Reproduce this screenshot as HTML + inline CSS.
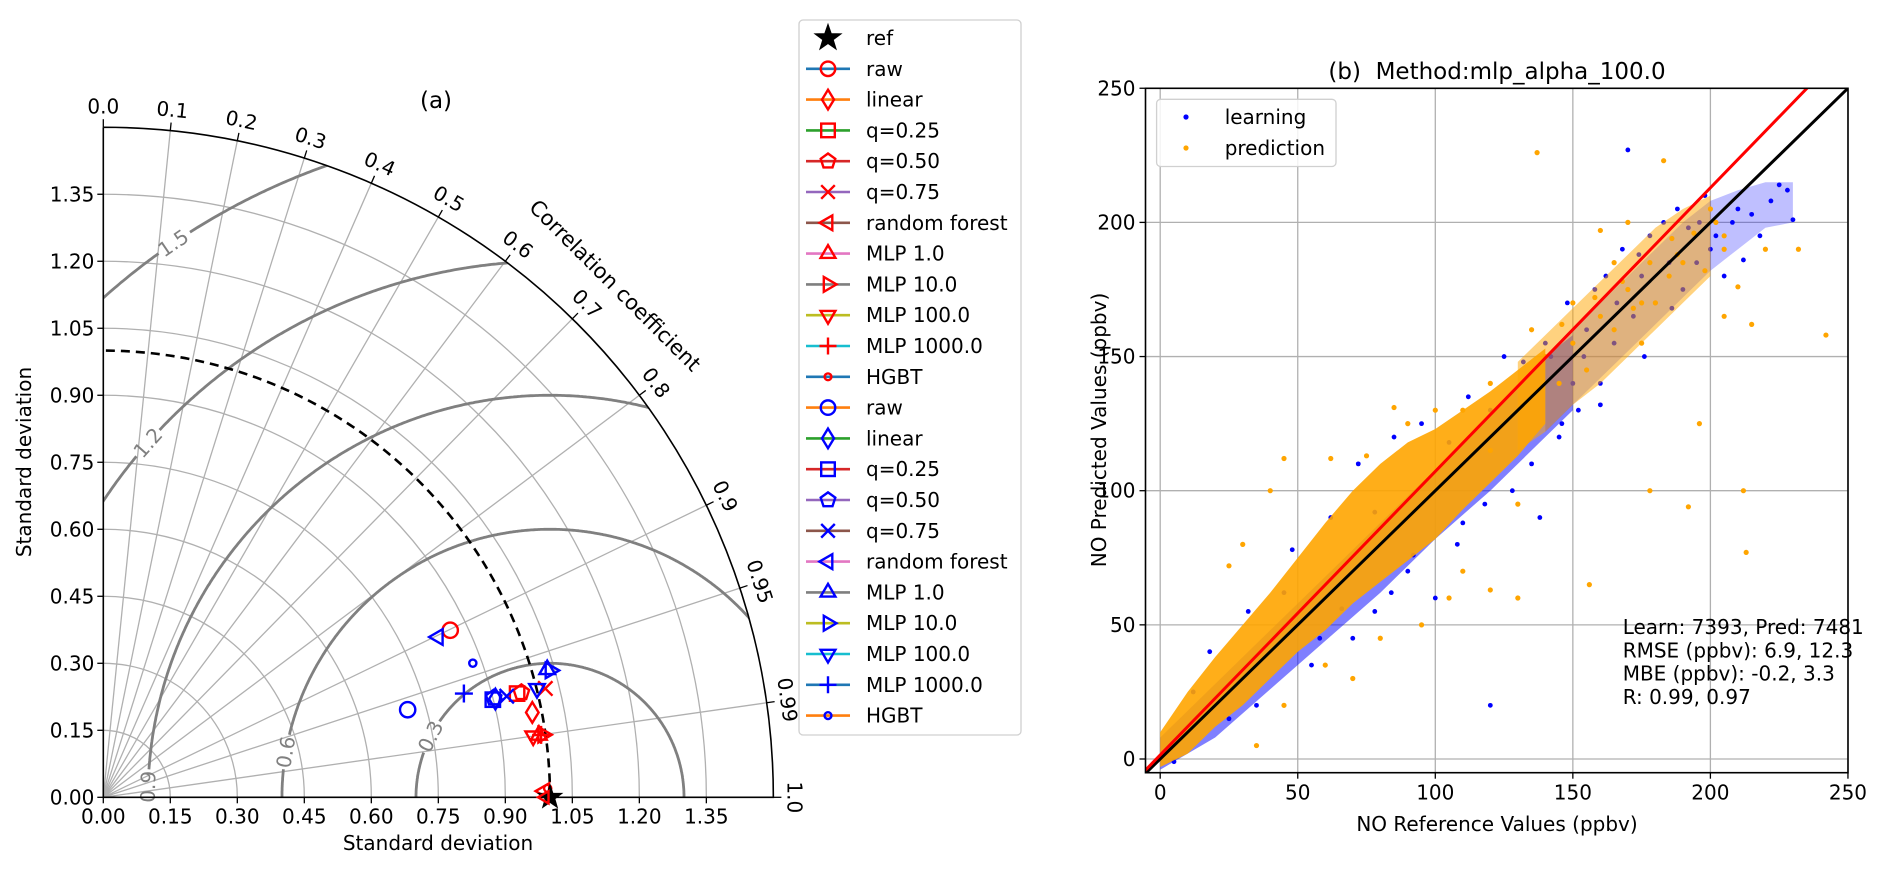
<!DOCTYPE html>
<html><head><meta charset="utf-8"><style>
html,body{margin:0;padding:0;background:#fff;}
svg{display:block;font-family:"DejaVu Sans","Liberation Sans",sans-serif;}
</style></head><body>
<svg id="fig" width="1892" height="869" viewBox="0 0 1892 869" xmlns="http://www.w3.org/2000/svg">
<defs>
<clipPath id="qclip"><path d="M103.3,797.3 L773.4,797.3 A670.05,670.05 0 0 0 103.3,127.25 Z"/></clipPath>
<clipPath id="sclip"><rect x="1145.5" y="88.3" width="702.5" height="684.4"/></clipPath>
</defs>
<g id="taylor"></g>
<g id="tlegend"></g>
<g id="scatter"></g>
</svg>
<script>
// ---------- Taylor diagram data ----------
const methodNames = ['raw','linear','q=0.25','q=0.50','q=0.75','random forest','MLP 1.0','MLP 10.0','MLP 100.0','MLP 1000.0','HGBT'];
const markerTypes = ['o','d','s','p','x','<','^','>','v','+','.'];
const stdRed  = [0.862,0.979,0.955,0.965,1.019,0.988,0.985,0.994,0.972,0.990,0.995];
const corrRed = [0.901,0.981,0.970,0.970,0.971,0.9999,0.990,0.990,0.990,0.990,0.9998];
const stdBlue  = [0.709,0.905,0.899,0.902,0.931,0.831,1.034,1.040,1.001,0.840,0.880];
const corrBlue = [0.961,0.970,0.970,0.969,0.970,0.902,0.961,0.962,0.970,0.961,0.940];
const refStd = 1.0;
const corrTicks = [0.0,0.1,0.2,0.3,0.4,0.5,0.6,0.7,0.8,0.9,0.95,0.99,1.0];
const stdTicks = [0.00,0.15,0.30,0.45,0.60,0.75,0.90,1.05,1.20,1.35];
const rmsLevels = [0.3,0.6,0.9,1.2,1.5];
const rmsLabelAngles = [153,170.3,178.5,138.6,124.2];
const tab10 = ['#1f77b4','#ff7f0e','#2ca02c','#d62728','#9467bd','#8c564b','#e377c2','#7f7f7f','#bcbd22','#17becf'];

// ---------- Scatter data ----------
const bandX     = [0,10,20,30,40,50,60,70,80,90,100,110,120,130,140];
const predLow   = [-3,2,12,20,30,40,48,58,66,74,82,93,103,113,125];
const predHigh  = [10,25,38,50,62,75,88,100,110,118,123,130,137,145,153];
const predTailX    = [130,140,150,160,170,180,190,200];
const predTailLow  = [115,122,132,140,150,160,170,180];
const predTailHigh = [148,158,168,178,188,198,205,210];
const learnBandX = [0,20,40,60,80,100,120,140,150];
const learnLow   = [-4,8,26,44,62,82,100,120,130];
const learnHigh  = [8,28,48,68,88,108,128,150,158];
const learnTailX    = [140,150,160,170,180,190,200,210,220,230];
const learnTailLow  = [122,132,142,152,162,172,182,190,198,200];
const learnTailHigh = [150,160,170,180,190,200,208,212,215,215];
const learnX = [5,12,18,25,32,35,45,48,55,62,70,72,78,85,90,95,100,105,108,112,118,120,125,128,132,135,138,140,145,148,150,152,155,158,160,162,165,168,170,172,175,178,180,183,185,188,190,192,195,198,200,202,205,208,210,212,215,218,222,225,228,230,160,142,146,154,166,176,186,196,174,78,92,84,58,66,110,120];
const learnY = [-1,25,40,15,55,20,62,78,35,90,45,110,55,120,70,125,60,118,80,135,95,20,150,100,148,110,90,155,120,170,140,130,160,175,140,180,155,190,227,165,180,195,170,200,185,205,175,198,185,210,190,195,180,200,205,186,203,195,208,214,212,201,132,150,125,150,170,150,168,200,188,92,76,62,45,56,88,130];
const predX = [137,183,160,170,178,186,180,175,198,205,210,215,232,242,213,192,178,156,130,120,100,90,85,75,62,45,40,30,25,140,150,160,165,170,155,145,175,185,190,200,205,220,205,60,80,105,110,120,95,130,196,212,45,35,70,150,165,120,110,135,168,172,188,194,202,158,146];
const predY = [226,223,197,200,185,194,170,155,182,165,176,162,190,158,77,94,100,65,95,115,130,125,131,113,112,112,100,80,72,150,155,165,160,175,145,140,170,180,185,205,195,190,190,35,45,60,70,63,50,60,125,100,20,5,30,170,185,140,130,160,178,168,188,196,200,172,162];
const yTickVals = [0,50,100,150,200,250];
const xTickVals = [0,50,100,150,200,250];
const fitSlope = 1.057, fitIntercept = 1.5;

const NS='http://www.w3.org/2000/svg';
function el(tag, attrs, parent){const e=document.createElementNS(NS,tag);for(const k in attrs)e.setAttribute(k,attrs[k]);if(parent)parent.appendChild(e);return e;}
function txt(str, attrs, parent){const t=el('text',attrs,parent);t.textContent=str;return t;}
const FS=20;

// ---------- Taylor geometry ----------
const OX=103.3, OY=797.3, R=446.7, SMAX=1.5;
function polar(s,c){const t=Math.acos(Math.max(-1,Math.min(1,c)));return [OX+s*R*Math.cos(t), OY-s*R*Math.sin(t)];}
function xy(x,y){return [OX+x*R, OY-y*R];}

function marker(type,x,y,s,col,parent){
  let e;const st={stroke:col,'stroke-width':2.4,fill:'none','stroke-linejoin':'miter'};
  const pts=a=>a.map(p=>p[0].toFixed(1)+','+p[1].toFixed(1)).join(' ');
  if(type==='o'){e=el('circle',Object.assign({cx:x,cy:y,r:s*0.85},st),parent);}
  else if(type==='d'){e=el('polygon',Object.assign({points:pts([[x,y-s*1.15],[x+s*0.7,y],[x,y+s*1.15],[x-s*0.7,y]])},st),parent);}
  else if(type==='s'){e=el('rect',Object.assign({x:x-s*0.8,y:y-s*0.8,width:s*1.6,height:s*1.6},st),parent);}
  else if(type==='p'){const a=[];for(let i=0;i<5;i++){const t=-Math.PI/2+i*2*Math.PI/5;a.push([x+s*0.9*Math.cos(t),y+s*0.9*Math.sin(t)]);}e=el('polygon',Object.assign({points:pts(a)},st),parent);}
  else if(type==='x'){e=el('path',Object.assign({d:`M${x-s*0.8},${y-s*0.8}L${x+s*0.8},${y+s*0.8}M${x-s*0.8},${y+s*0.8}L${x+s*0.8},${y-s*0.8}`},st),parent);}
  else if(type==='+'){e=el('path',Object.assign({d:`M${x-s},${y}L${x+s},${y}M${x},${y-s}L${x},${y+s}`},st),parent);}
  else if(type==='.'){e=el('circle',Object.assign({cx:x,cy:y,r:s*0.4},st),parent);}
  else if(type==='*'){const a=[];for(let i=0;i<10;i++){const t=-Math.PI/2+i*Math.PI/5;const rr=i%2?s*0.5:s*1.25;a.push([x+rr*Math.cos(t),y+rr*Math.sin(t)]);}e=el('polygon',{points:pts(a),fill:col,stroke:col,'stroke-width':1},parent);}
  else{
    const d={'^':-Math.PI/2,'v':Math.PI/2,'<':Math.PI,'>':0}[type];const a=[];
    for(let i=0;i<3;i++){const t=d+i*2*Math.PI/3;a.push([x+s*Math.cos(t),y+s*Math.sin(t)]);}
    e=el('polygon',Object.assign({points:pts(a)},st),parent);
  }
  return e;
}

const T=document.getElementById('taylor');
const grid=el('g',{},T);


stdTicks.slice(1).forEach(s=>{
  const a=el('path',{d:`M${OX+s*R},${OY} A${s*R},${s*R} 0 0 0 ${OX},${OY-s*R}`,fill:'none',stroke:'#b0b0b0','stroke-width':1.3},grid);
  
  
});
corrTicks.forEach(c=>{
  if(c===0||c===1) return;
  const p=polar(SMAX,c);
  const l=el('line',{x1:OX,y1:OY,x2:p[0],y2:p[1],stroke:'#b0b0b0','stroke-width':1.3},grid);
  
  
});
const cont=el('g',{'clip-path':'url(#qclip)'},T);


rmsLevels.forEach((r,i)=>{
  const la=rmsLabelAngles[i];const gap=(17/(r*R))*180/Math.PI;
  let segs=[[]];
  for(let a=0;a<=180;a+=0.25){
    if(Math.abs(a-la)<gap){if(segs[segs.length-1].length)segs.push([]);continue;}
    const p=xy(refStd+r*Math.cos(a*Math.PI/180), r*Math.sin(a*Math.PI/180));
    segs[segs.length-1].push(p);
  }
  segs.filter(s=>s.length>1).forEach(s=>{
    const c=el('path',{d:'M'+s.map(p=>p[0].toFixed(1)+','+p[1].toFixed(1)).join('L'),fill:'none',stroke:'#808080','stroke-width':2.8},cont);
    
    
  });
  const lp=xy(refStd+r*Math.cos(la*Math.PI/180), r*Math.sin(la*Math.PI/180));
  let rot=-(la-90); if(rot<-90)rot+=180; if(rot>90)rot-=180;
  const lt=txt(r.toFixed(1),{x:lp[0],y:lp[1],'text-anchor':'middle','dominant-baseline':'central','font-size':FS,fill:'#808080',transform:`rotate(${rot} ${lp[0]} ${lp[1]})`},T);
  
  
});
const dc=el('path',{d:`M${OX+refStd*R},${OY} A${refStd*R},${refStd*R} 0 0 0 ${OX},${OY-refStd*R}`,fill:'none',stroke:'#000','stroke-width':2.6,'stroke-dasharray':'9,6'},T);


const sp=el('path',{d:`M${OX},${OY-SMAX*R} L${OX},${OY} L${OX+SMAX*R},${OY} A${SMAX*R},${SMAX*R} 0 0 0 ${OX},${OY-SMAX*R}`,fill:'none',stroke:'#000','stroke-width':1.6},T);


stdTicks.forEach(s=>{
  const tx=el('line',{x1:OX+s*R,y1:OY,x2:OX+s*R,y2:OY+6,stroke:'#000','stroke-width':1.3},T);
  
  
  const lx=txt(s.toFixed(2),{x:OX+s*R,y:OY+26,'text-anchor':'middle','font-size':FS},T);
  
  
  const ty=el('line',{x1:OX-6,y1:OY-s*R,x2:OX,y2:OY-s*R,stroke:'#000','stroke-width':1.3},T);
  
  
  const ly=txt(s.toFixed(2),{x:OX-9,y:OY-s*R+7,'text-anchor':'end','font-size':FS},T);
  
  
});
corrTicks.forEach(c=>{
  const p1=polar(SMAX,c),p2=polar(SMAX*1.012,c),lp=polar(SMAX+0.047,c);
  const tk=el('line',{x1:p1[0],y1:p1[1],x2:p2[0],y2:p2[1],stroke:'#000','stroke-width':1.3},T);
  
  
  const rot=90-Math.acos(c)*180/Math.PI;
  const lt=txt(c.toString().length<3?c.toFixed(1):String(c),{x:lp[0],y:lp[1],'text-anchor':'middle','dominant-baseline':'central','font-size':FS,transform:`rotate(${rot} ${lp[0]} ${lp[1]})`},T);
  
  
});
{
  const p=polar(1.62,Math.cos(45*Math.PI/180));
  const t=txt('Correlation coefficient',{x:p[0],y:p[1],'text-anchor':'middle','dominant-baseline':'central','font-size':21,transform:`rotate(45 ${p[0]} ${p[1]})`},T);
  
  
  const xl=txt('Standard deviation',{x:438,y:850,'text-anchor':'middle','font-size':FS},T);
  
  
  const yl=txt('Standard deviation',{x:31,y:462,'text-anchor':'middle','font-size':FS,transform:'rotate(-90 31 462)'},T);
  
  
  const ti=txt('(a)',{x:436,y:108,'text-anchor':'middle','font-size':23},T);
  
  
}
const pts=el('g',{},T);


methodNames.forEach((n,i)=>{
  const p=polar(stdRed[i],corrRed[i]);
  const m=marker(markerTypes[i],p[0],p[1],9,'#ff0000',pts);
  
  
});
methodNames.forEach((n,i)=>{
  const p=polar(stdBlue[i],corrBlue[i]);
  const m=marker(markerTypes[i],p[0],p[1],9,'#0000ff',pts);
  
  
});
{
  const p=polar(refStd,1);
  const st=marker('*',p[0],p[1],10,'#000',pts);
  
  
  const h=marker('<',p[0]-5,p[1],7,'#ff0000',pts);
  
  
}

// ---------- Taylor legend ----------
const L=document.getElementById('tlegend');
const lb=el('rect',{x:799,y:20,width:222,height:715,rx:4,fill:'#fff',stroke:'#d0d0d0','stroke-width':1.3},L);


const legY0=38, legDY=30.8;
{
  const s=marker('*',828,legY0,11,'#000',L);
  
  
  const t=txt('ref',{x:866,y:legY0+7,'font-size':FS},L);
  
  
}
for(let k=0;k<22;k++){
  const i=k%11;const col=k<11?'#ff0000':'#0000ff';const y=legY0+(k+1)*legDY;
  const ln=el('line',{x1:806,y1:y,x2:850,y2:y,stroke:tab10[k%10],'stroke-width':2.6},L);
  
  
  const m=marker(markerTypes[i],828,y,8.5,col,L);
  
  
  const t=txt(methodNames[i],{x:866,y:y+7,'font-size':FS},L);
  
  
}

// ---------- Scatter ----------
const S=document.getElementById('scatter');
const X0=1160.2, XS=2.751, Y0=759, YS=2.683;
const sx=v=>X0+v*XS, sy=v=>Y0-v*YS;
const L_=1145.5, Rr=1848, Tp=88.3, Bt=772.7;
yTickVals.forEach(v=>{
  const g=el('line',{x1:L_,y1:sy(v),x2:Rr,y2:sy(v),stroke:'#b0b0b0','stroke-width':1.3},S);
  
  
  const t=el('line',{x1:L_-6,y1:sy(v),x2:L_,y2:sy(v),stroke:'#000','stroke-width':1.3},S);
  
  
  const l=txt(String(v),{x:L_-10,y:sy(v)+7,'text-anchor':'end','font-size':FS},S);
  
  
});
xTickVals.forEach(v=>{
  const g=el('line',{x1:sx(v),y1:Tp,x2:sx(v),y2:Bt,stroke:'#b0b0b0','stroke-width':1.3},S);
  
  
  const t=el('line',{x1:sx(v),y1:Bt,x2:sx(v),y2:Bt+6,stroke:'#000','stroke-width':1.3},S);
  
  
  const l=txt(String(v),{x:sx(v),y:Bt+27,'text-anchor':'middle','font-size':FS},S);
  
  
});
const plot=el('g',{'clip-path':'url(#sclip)'},S);


function band(xs,lo,hi,col,op){
  const top=xs.map((x,i)=>sx(x).toFixed(1)+','+sy(hi[i]).toFixed(1));
  const bot=xs.map((x,i)=>sx(x).toFixed(1)+','+sy(lo[i]).toFixed(1)).reverse();
  return el('polygon',{points:top.concat(bot).join(' '),fill:col,'fill-opacity':op,'stroke-linejoin':'round'},plot);
}
const lbd=band(learnBandX,learnLow,learnHigh,'#0000ff',0.5);


const ltl=band(learnTailX,learnTailLow,learnTailHigh,'#0000ff',0.25);


learnX.forEach((x,i)=>{
  const c=el('circle',{cx:sx(x),cy:sy(learnY[i]),r:2.4,fill:'#0000ff'},plot);
  
  
});
const ptl=band(predTailX,predTailLow,predTailHigh,'#ffa500',0.5);


const pbd=band(bandX,predLow,predHigh,'#ffa500',0.9);


predX.forEach((x,i)=>{
  const c=el('circle',{cx:sx(x),cy:sy(predY[i]),r:2.6,fill:'#ffa500'},plot);
  
  
});
const idl=el('line',{x1:sx(-6),y1:sy(-6),x2:sx(260),y2:sy(260),stroke:'#000','stroke-width':3},plot);


const fl=el('line',{x1:sx(-6),y1:sy(fitIntercept-6*fitSlope),x2:sx(260),y2:sy(fitIntercept+260*fitSlope),stroke:'#ff0000','stroke-width':3},plot);


const frame=el('rect',{x:L_,y:Tp,width:Rr-L_,height:Bt-Tp,fill:'none',stroke:'#000','stroke-width':1.6},S);


const sl=el('rect',{x:1156.6,y:99.3,width:179.4,height:67.2,rx:4,fill:'#fff','fill-opacity':0.85,stroke:'#d0d0d0','stroke-width':1.3},S);


const lm1=el('circle',{cx:1186,cy:117,r:2.6,fill:'#0000ff'},S);


const lt1=txt('learning',{x:1224.7,y:124,'font-size':FS},S);


const lm2=el('circle',{cx:1186,cy:148,r:2.6,fill:'#ffa500'},S);


const lt2=txt('prediction',{x:1224.7,y:155,'font-size':FS},S);


['Learn: 7393, Pred: 7481','RMSE (ppbv): 6.9, 12.3','MBE (ppbv): -0.2, 3.3','R: 0.99, 0.97'].forEach((s,i)=>{
  const t=txt(s,{x:1622.7,y:634+i*23.3,'font-size':FS},S);
  
  
});
const st=txt('(b)\u00a0\u00a0Method:mlp_alpha_100.0',{x:1497,y:79,'text-anchor':'middle','font-size':23},S);


const sxl=txt('NO Reference Values (ppbv)',{x:1497,y:831,'text-anchor':'middle','font-size':FS},S);


const syl=txt('NO Predicted Values (ppbv)',{x:1106,y:430,'text-anchor':'middle','font-size':FS,transform:'rotate(-90 1106 430)'},S);


</script>
</body></html>
